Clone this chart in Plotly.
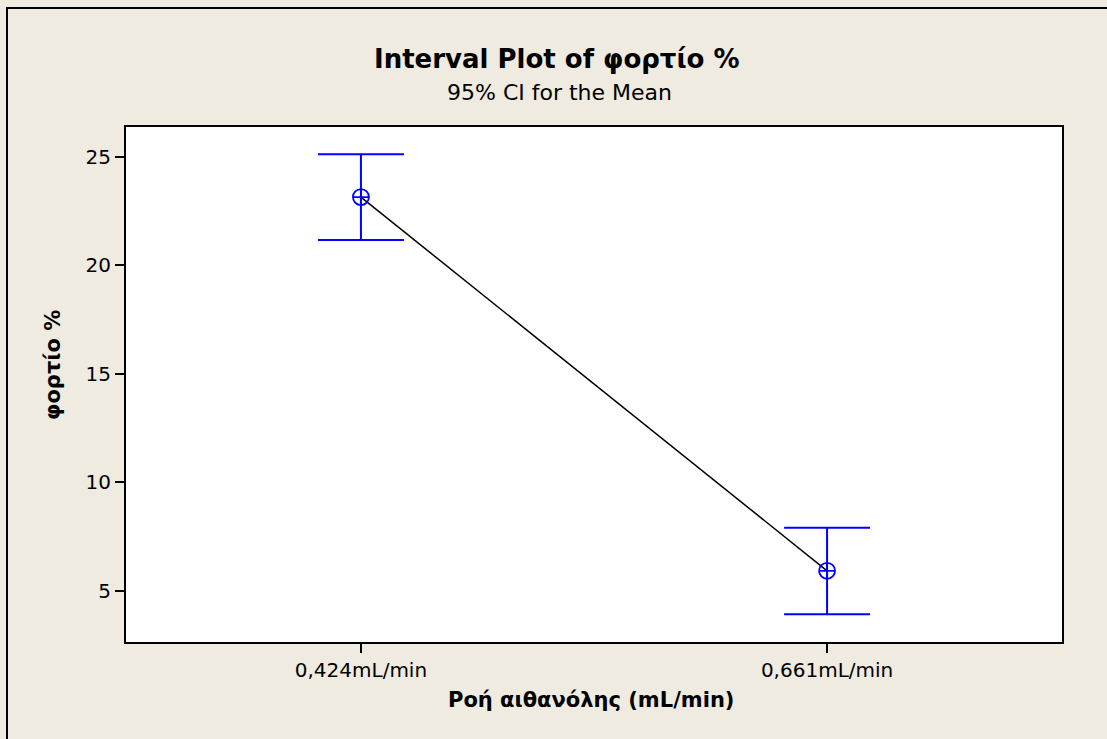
import plotly.graph_objects as go

# Flow-rate groups, group means and 95% confidence limits
categories = ["0,424mL/min", "0,661mL/min"]
means = [23.15, 5.93]
ci_lower = [21.17, 3.93]
ci_upper = [25.13, 7.91]
y_ticks = [5, 10, 15, 20, 25]

x_pos = list(range(len(categories)))
err_plus = [u - m for u, m in zip(ci_upper, means)]
err_minus = [m - l for m, l in zip(means, ci_lower)]

FONT = "DejaVu Sans"
BG = "#EFEBE1"

fig = go.Figure()

# connecting line between group means
fig.add_trace(go.Scatter(
    x=x_pos, y=means, mode="lines",
    line=dict(color="black", width=1.5),
    hoverinfo="skip", showlegend=False,
))

# means with CI bars
fig.add_trace(go.Scatter(
    x=x_pos, y=means, mode="markers",
    marker=dict(symbol="circle-cross-open", size=16, color="#0000FF",
                line=dict(color="#0000FF", width=1.8)),
    error_y=dict(type="data", symmetric=False, array=err_plus,
                 arrayminus=err_minus, color="#0000FF",
                 thickness=2, width=43),
    showlegend=False,
))

fig.update_layout(
    width=1107, height=739,
    margin=dict(l=126, r=45, t=127, b=97),
    paper_bgcolor=BG, plot_bgcolor="white",
    font=dict(family=FONT, size=20, color="black"),
    showlegend=False,
    xaxis=dict(
        range=[-0.504, 1.504],
        tickmode="array", tickvals=x_pos, ticktext=categories,
        ticks="outside", ticklen=9, tickwidth=1.5, tickcolor="black",
        showline=True, linecolor="black", linewidth=2, mirror=True,
        showgrid=False, zeroline=False,
        tickfont=dict(family=FONT, size=20),
    ),
    yaxis=dict(
        range=[2.65, 26.38],
        tickmode="array", tickvals=y_ticks,
        ticks="outside", ticklen=9, tickwidth=1.5, tickcolor="black",
        showline=True, linecolor="black", linewidth=2, mirror=True,
        showgrid=False, zeroline=False,
        tickfont=dict(family=FONT, size=20),
    ),
    annotations=[
        dict(text="<b>Interval Plot of φορτίο %</b>", xref="paper", yref="paper",
             x=(557 - 126) / 936, y=(642 - 59) / 515, showarrow=False,
             font=dict(family=FONT, size=26), xanchor="center", yanchor="middle"),
        dict(text="95% CI for the Mean", xref="paper", yref="paper",
             x=(559 - 126) / 936, y=(642 - 92) / 515, showarrow=False,
             font=dict(family=FONT, size=22), xanchor="center", yanchor="middle"),
        dict(text="<b>Ροή αιθανόλης (mL/min)</b>", xref="paper", yref="paper",
             x=(591 - 126) / 936, y=(642 - 700) / 515, showarrow=False,
             font=dict(family=FONT, size=21), xanchor="center", yanchor="middle"),
        dict(text="<b>φορτίο %</b>", xref="paper", yref="paper",
             x=(53 - 126) / 936, y=(642 - 365) / 515, showarrow=False,
             textangle=-90,
             font=dict(family=FONT, size=21), xanchor="center", yanchor="middle"),
    ],
    shapes=[
        # outer frame of the graph region
        dict(type="rect", xref="paper", yref="paper",
             x0=(7 - 126) / 936, x1=(1120 - 126) / 936,
             y0=(642 - 760) / 515, y1=(642 - 8) / 515,
             line=dict(color="black", width=2), layer="below"),
    ],
)

fig.write_html("out.html")
